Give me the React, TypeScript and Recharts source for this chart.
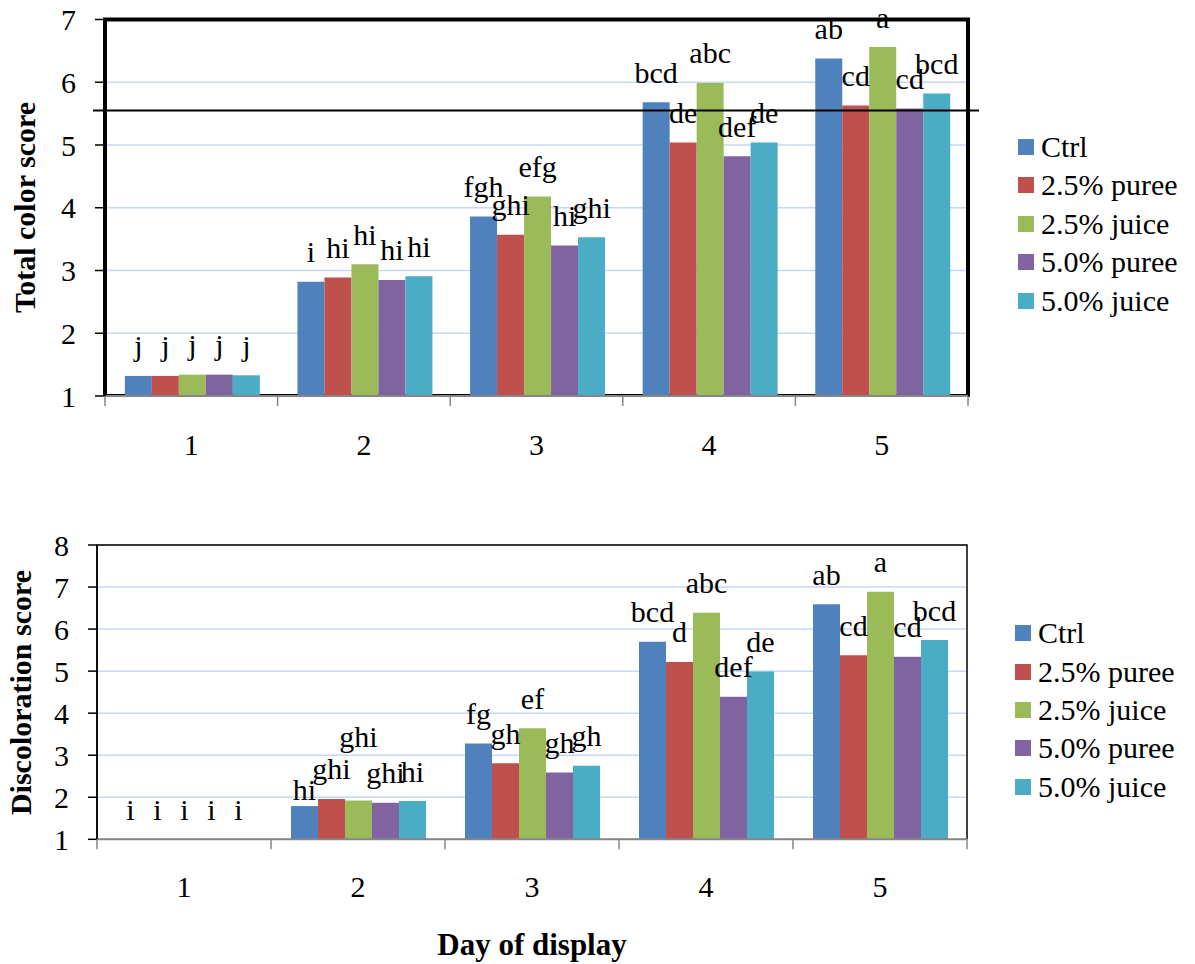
import {
  Bar,
  BarChart,
  CartesianGrid,
  LabelList,
  Legend,
  ReferenceArea,
  ReferenceLine,
  XAxis,
  YAxis,
} from "recharts";

const days = ["1", "2", "3", "4", "5"];

const seriesNames = ["Ctrl", "2.5% puree", "2.5% juice", "5.0% puree", "5.0% juice"];
const seriesKeys = ["ctrl", "puree25", "juice25", "puree50", "juice50"];
const seriesColors = ["#4f81bd", "#c0504d", "#9bbb59", "#8064a2", "#4bacc6"];

// Total color score
const colorCtrl = [1.32, 2.82, 3.86, 5.68, 6.38];
const colorPuree25 = [1.32, 2.89, 3.57, 5.04, 5.63];
const colorJuice25 = [1.34, 3.1, 4.18, 5.99, 6.56];
const colorPuree50 = [1.34, 2.85, 3.4, 4.82, 5.58];
const colorJuice50 = [1.33, 2.91, 3.53, 5.04, 5.82];

const colorLettersCtrl = ["j", "i", "fgh", "bcd", "ab"];
const colorLettersPuree25 = ["j", "hi", "ghi", "de", "cd"];
const colorLettersJuice25 = ["j", "hi", "efg", "abc", "a"];
const colorLettersPuree50 = ["j", "hi", "hi", "def", "cd"];
const colorLettersJuice50 = ["j", "hi", "ghi", "de", "bcd"];

const colorTicks = [1, 2, 3, 4, 5, 6, 7];
const colorRefLine = 5.55;

// Discoloration score
const discCtrl = [1.004, 1.79, 3.28, 5.7, 6.59];
const discPuree25 = [1.004, 1.96, 2.81, 5.22, 5.38];
const discJuice25 = [1.004, 1.92, 3.64, 6.39, 6.89];
const discPuree50 = [1.004, 1.87, 2.59, 4.39, 5.34];
const discJuice50 = [1.004, 1.91, 2.75, 4.99, 5.74];

const discLettersCtrl = ["i", "hi", "fg", "bcd", "ab"];
const discLettersPuree25 = ["i", "ghi", "gh", "d", "cd"];
const discLettersJuice25 = ["i", "ghi", "ef", "abc", "a"];
const discLettersPuree50 = ["i", "ghi", "gh", "def", "cd"];
const discLettersJuice50 = ["i", "hi", "gh", "de", "bcd"];

const discTicks = [1, 2, 3, 4, 5, 6, 7, 8];

// a couple of letters were dragged off their default spot in the original
const discLabelNudge: Record<string, number[]> = {
  ctrl: [0, 13, 0, 0, 0],
  juice25: [0, -34, 0, 0, 0],
};

const FONT =
  '"Times New Roman", "Liberation Serif", Tinos, "Noto Serif", "DejaVu Serif", FreeSerif, Times, serif';

function buildRows(values: number[][], letters: string[][]) {
  return days.map((day, i) => {
    const row: any = { day };
    seriesKeys.forEach((k, s) => {
      row[k] = values[s][i];
      row[k + "_l"] = letters[s][i];
    });
    return row;
  });
}

const colorRows = buildRows(
  [colorCtrl, colorPuree25, colorJuice25, colorPuree50, colorJuice50],
  [colorLettersCtrl, colorLettersPuree25, colorLettersJuice25, colorLettersPuree50, colorLettersJuice50]
);
const discRows = buildRows(
  [discCtrl, discPuree25, discJuice25, discPuree50, discJuice50],
  [discLettersCtrl, discLettersPuree25, discLettersJuice25, discLettersPuree50, discLettersJuice50]
);

const DayTick = (props: any) => {
  const { x, y, payload, index, half } = props;
  const off = payload && payload.offset ? payload.offset : half;
  return (
    <g>
      <line x1={x - off} x2={x - off} y1={y} y2={y + 10} stroke="#868686" strokeWidth={1.5} />
      {index === days.length - 1 && (
        <line x1={x + off} x2={x + off} y1={y} y2={y + 10} stroke="#868686" strokeWidth={1.5} />
      )}
      <text x={x} y={y + props.gap} textAnchor="middle" fontSize={30} style={{ fontFamily: FONT }} fill="#000">
        {payload.value}
      </text>
    </g>
  );
};

const letterLabel = (nudge?: number[]) => (p: any) => {
  const { x, y, width, value, index } = p;
  const dy = nudge ? nudge[index] || 0 : 0;
  return (
    <text
      x={x + width / 2}
      y={y - 19.5 + dy}
      textAnchor="middle"
      fontSize={30}
      style={{ fontFamily: FONT }}
      fill="#000"
    >
      {value}
    </text>
  );
};

const LegendBox = () => (
  <div style={{ fontFamily: FONT, fontSize: 30, color: "#000" }}>
    {seriesNames.map((n, i) => (
      <div key={n} style={{ display: "flex", alignItems: "center", height: 38.4, whiteSpace: "nowrap" }}>
        <span style={{ width: 16, height: 16, background: seriesColors[i], marginRight: 7, flex: "none" }} />
        <span style={{ lineHeight: "38px" }}>{n}</span>
      </div>
    ))}
  </div>
);

const axisTitle = (text: string, cx: number, cy: number) => () =>
  (
    <text
      x={cx}
      y={cy}
      transform={`rotate(-90, ${cx}, ${cy})`}
      textAnchor="middle"
      dominantBaseline="central"
      fontSize={30}
      fontWeight="bold"
      style={{ fontFamily: FONT }}
      fill="#000"
    >
      {text}
    </text>
  );

function App() {
  return (
    <div style={{ position: "absolute", left: 0, top: 0, width: 1195, height: 964, background: "#fff", fontFamily: FONT }}>
      {/* Total color score */}
      <div style={{ position: "absolute", left: 0, top: 0 }}>
        <BarChart
          width={1195}
          height={470}
          data={colorRows}
          margin={{ top: 19.5, right: 227, bottom: 14, left: 45 }}
          barCategoryGap="11.5%"
          barGap={0}
          style={{ fontFamily: FONT }}
        >
          <CartesianGrid vertical={false} stroke="#c6d9f1" strokeWidth={1.5} />
          <XAxis
            dataKey="day"
            height={60}
            interval={0}
            tickLine={false}
            tickSize={0}
            tickMargin={0}
            axisLine={{ stroke: "#868686", strokeWidth: 2 }}
            tick={<DayTick half={86.3} gap={59} />}
          />
          <YAxis
            width={60}
            type="number"
            domain={[1, 7]}
            ticks={colorTicks}
            interval={0}
            tickSize={10}
            tickMargin={19}
            tickLine={{ stroke: "#000", strokeWidth: 1.5 }}
            axisLine={{ stroke: "#000", strokeWidth: 1.5 }}
            tick={{ fontSize: 30, fontFamily: FONT, fill: "#000" }}
            label={axisTitle("Total color score", 24, 207.5)}
          />
          {seriesKeys.map((k, i) => (
            <Bar key={k} dataKey={k} name={seriesNames[i]} fill={seriesColors[i]} isAnimationActive={false}>
              <LabelList dataKey={k + "_l"} content={letterLabel()} />
            </Bar>
          ))}
          <ReferenceArea
            y1={1}
            y2={7}
            ifOverflow="visible"
            shape={(p: any) => (
              <g>
                <path
                  d={`M${p.x},${p.y + p.height} V${p.y} H${p.x + p.width} V${p.y + p.height + 1}`}
                  fill="none"
                  stroke="#000"
                  strokeWidth={4}
                />
                <line x1={p.x} x2={p.x + p.width} y1={p.y + p.height - 1.5} y2={p.y + p.height - 1.5} stroke="#000" strokeWidth={1} />
              </g>
            )}
          />
          <ReferenceLine
            y={colorRefLine}
            ifOverflow="visible"
            shape={(p: any) => (
              <line x1={p.x1 - 12} x2={p.x2 + 11} y1={p.y1} y2={p.y2} stroke="#000" strokeWidth={2} />
            )}
          />
          <Legend
            layout="vertical"
            align="center"
            verticalAlign="middle"
            wrapperStyle={{ left: 1018, top: 127.8, width: 175 }}
            content={<LegendBox />}
          />
        </BarChart>
      </div>

      {/* Discoloration score */}
      <div style={{ position: "absolute", left: 0, top: 480 }}>
        <BarChart
          width={1195}
          height={484}
          data={discRows}
          margin={{ top: 65, right: 228, bottom: 14.7, left: 37 }}
          barCategoryGap="11.5%"
          barGap={0}
          style={{ fontFamily: FONT }}
        >
          <CartesianGrid vertical={false} stroke="#c6d9f1" strokeWidth={1.5} />
          <XAxis
            dataKey="day"
            height={110}
            interval={0}
            tickLine={false}
            tickSize={0}
            tickMargin={0}
            axisLine={{ stroke: "#868686", strokeWidth: 2 }}
            tick={<DayTick half={87} gap={57.5} />}
            label={{
              value: "Day of display",
              position: "insideBottom",
              offset: -6,
              fontSize: 31,
              fontWeight: "bold",
              fontFamily: FONT,
              fill: "#000",
            }}
          />
          <YAxis
            width={60}
            type="number"
            domain={[1, 8]}
            ticks={discTicks}
            interval={0}
            tickSize={9}
            tickMargin={19}
            tickLine={{ stroke: "#000", strokeWidth: 1.5 }}
            axisLine={{ stroke: "#000", strokeWidth: 1.5 }}
            tick={{ fontSize: 30, fontFamily: FONT, fill: "#000" }}
            label={axisTitle("Discoloration score", 20, 212.5)}
          />
          <ReferenceArea
            y1={1}
            y2={8}
            ifOverflow="visible"
            shape={(p: any) => (
              <path
                d={`M${p.x},${p.y + p.height} V${p.y} H${p.x + p.width} V${p.y + p.height}`}
                fill="none"
                stroke="#000"
                strokeWidth={1.5}
              />
            )}
          />
          {seriesKeys.map((k, i) => (
            <Bar key={k} dataKey={k} name={seriesNames[i]} fill={seriesColors[i]} isAnimationActive={false}>
              <LabelList dataKey={k + "_l"} content={letterLabel(discLabelNudge[k])} />
            </Bar>
          ))}
          <Legend
            layout="vertical"
            align="center"
            verticalAlign="middle"
            wrapperStyle={{ left: 1015, top: 134, width: 178 }}
            content={<LegendBox />}
          />
        </BarChart>
      </div>
    </div>
  );
}

export default App;
